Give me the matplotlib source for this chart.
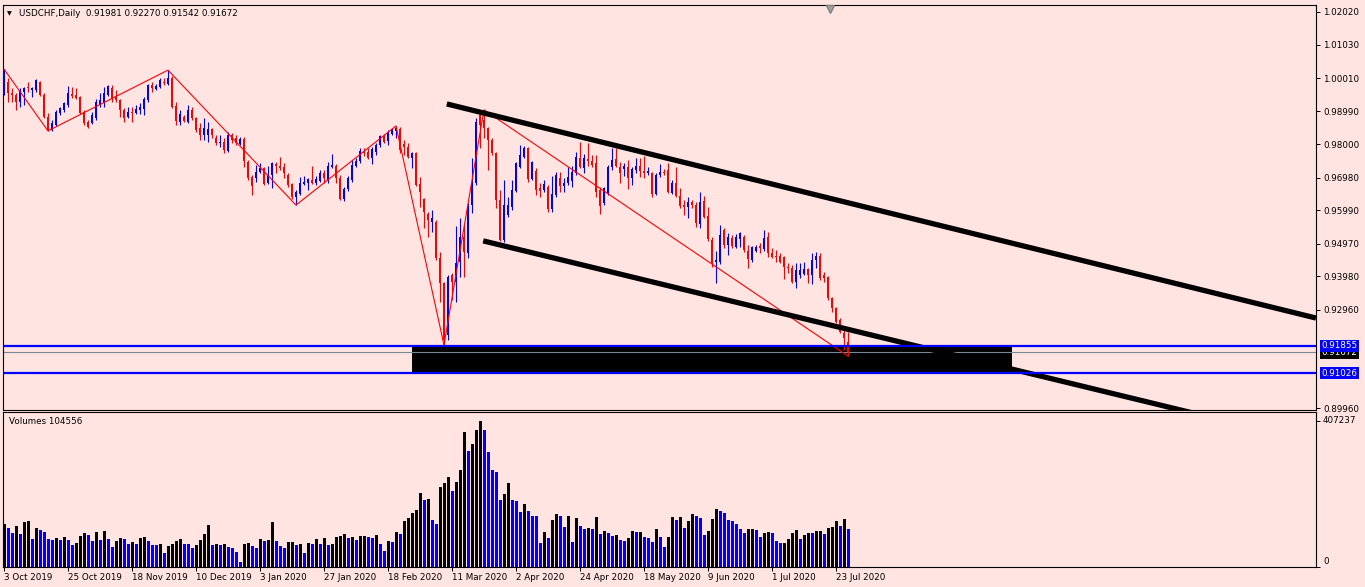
"""
USDCHF Daily - MT4 style chart with channel, zigzag, support box and volumes.
"""

import matplotlib
matplotlib.use('Agg')
import matplotlib.pyplot as plt
import matplotlib.transforms as mtransforms
from matplotlib.patches import Rectangle

# ── Daily bars, 3 Oct 2019 .. Jul 2020 ──────────────────────────────────
opens = [
    0.9955, 0.9989, 0.9955, 0.9949, 0.9928, 0.9958, 0.9974, 0.9965, 0.9965, 0.9989,
    0.9949, 0.9882, 0.9843, 0.9858, 0.9894, 0.9904, 0.9919, 0.9952, 0.9949, 0.9943,
    0.9897, 0.9867, 0.9864, 0.9880, 0.9919, 0.9925, 0.9949, 0.9971, 0.9943, 0.9934,
    0.9904, 0.9882, 0.9897, 0.9894, 0.9904, 0.9907, 0.9934, 0.9980, 0.9968, 0.9974,
    0.9989, 0.9983, 1.0001, 0.9916, 0.9867, 0.9882, 0.9867, 0.9904, 0.9880, 0.9849,
    0.9827, 0.9827, 0.9846, 0.9818, 0.9803, 0.9806, 0.9779, 0.9827, 0.9818, 0.9800,
    0.9815, 0.9745, 0.9699, 0.9696, 0.9715, 0.9727, 0.9681, 0.9706, 0.9739, 0.9733,
    0.9730, 0.9706, 0.9678, 0.9639, 0.9648, 0.9678, 0.9681, 0.9690, 0.9681, 0.9687,
    0.9712, 0.9690, 0.9730, 0.9733, 0.9696, 0.9633, 0.9663, 0.9690, 0.9733, 0.9748,
    0.9776, 0.9776, 0.9757, 0.9776, 0.9797, 0.9824, 0.9809, 0.9830, 0.9840, 0.9846,
    0.9800, 0.9791, 0.9757, 0.9773, 0.9678, 0.9633, 0.9587, 0.9562, 0.9562, 0.9453,
    0.9376, 0.9218, 0.9401, 0.9380, 0.9441, 0.9517, 0.9468, 0.9614, 0.9681, 0.9888,
    0.9873, 0.9849, 0.9812, 0.9773, 0.9630, 0.9508, 0.9584, 0.9608, 0.9657, 0.9730,
    0.9760, 0.9788, 0.9693, 0.9718, 0.9666, 0.9660, 0.9669, 0.9602, 0.9645, 0.9696,
    0.9672, 0.9681, 0.9687, 0.9712, 0.9757, 0.9727, 0.9754, 0.9748, 0.9742, 0.9660,
    0.9621, 0.9651, 0.9730, 0.9754, 0.9730, 0.9724, 0.9730, 0.9696, 0.9721, 0.9733,
    0.9718, 0.9712, 0.9712, 0.9648, 0.9706, 0.9715, 0.9721, 0.9651, 0.9681, 0.9642,
    0.9614, 0.9608, 0.9624, 0.9614, 0.9556, 0.9627, 0.9581, 0.9508, 0.9441, 0.9441,
    0.9538, 0.9493, 0.9514, 0.9486, 0.9511, 0.9517, 0.9474, 0.9447, 0.9474, 0.9489,
    0.9480, 0.9517, 0.9468, 0.9459, 0.9459, 0.9456, 0.9425, 0.9422, 0.9380, 0.9401,
    0.9404, 0.9419, 0.9401, 0.9447, 0.9459, 0.9401, 0.9395, 0.9331, 0.9301, 0.9264,
    0.9225, 0.91981,
]
highs = [
    1.0028, 1.0001, 0.9971, 0.9955, 0.9971, 0.9974, 0.9989, 0.9974, 0.9998, 0.9992,
    0.9955, 0.9894, 0.9873, 0.9904, 0.9913, 0.9928, 0.9977, 0.9974, 0.9971, 0.9946,
    0.9904, 0.9873, 0.9897, 0.9937, 0.9955, 0.9974, 0.9980, 0.9980, 0.9965, 0.9937,
    0.9910, 0.9913, 0.9913, 0.9919, 0.9925, 0.9943, 0.9983, 0.9989, 0.9983, 1.0001,
    1.0001, 1.0025, 1.0007, 0.9928, 0.9904, 0.9888, 0.9919, 0.9913, 0.9882, 0.9864,
    0.9880, 0.9867, 0.9849, 0.9827, 0.9827, 0.9818, 0.9837, 0.9834, 0.9827, 0.9821,
    0.9821, 0.9751, 0.9706, 0.9736, 0.9742, 0.9730, 0.9733, 0.9745, 0.9745, 0.9760,
    0.9742, 0.9712, 0.9681, 0.9660, 0.9699, 0.9702, 0.9696, 0.9733, 0.9702, 0.9721,
    0.9721, 0.9745, 0.9770, 0.9739, 0.9706, 0.9669, 0.9702, 0.9751, 0.9757, 0.9788,
    0.9788, 0.9788, 0.9791, 0.9803, 0.9827, 0.9830, 0.9843, 0.9849, 0.9855, 0.9852,
    0.9812, 0.9803, 0.9776, 0.9776, 0.9699, 0.9636, 0.9593, 0.9599, 0.9569, 0.9471,
    0.9380, 0.9401, 0.9407, 0.9550, 0.9575, 0.9553, 0.9621, 0.9757, 0.9880, 0.9904,
    0.9904, 0.9852, 0.9818, 0.9776, 0.9660, 0.9690, 0.9639, 0.9690, 0.9745, 0.9797,
    0.9794, 0.9791, 0.9748, 0.9727, 0.9681, 0.9690, 0.9675, 0.9702, 0.9715, 0.9715,
    0.9696, 0.9730, 0.9733, 0.9776, 0.9806, 0.9770, 0.9803, 0.9767, 0.9767, 0.9669,
    0.9669, 0.9736, 0.9788, 0.9788, 0.9745, 0.9742, 0.9751, 0.9730, 0.9757, 0.9757,
    0.9764, 0.9730, 0.9715, 0.9712, 0.9739, 0.9724, 0.9742, 0.9690, 0.9730, 0.9666,
    0.9630, 0.9639, 0.9630, 0.9624, 0.9654, 0.9642, 0.9608, 0.9517, 0.9474, 0.9553,
    0.9544, 0.9529, 0.9523, 0.9526, 0.9532, 0.9523, 0.9493, 0.9489, 0.9493, 0.9498,
    0.9538, 0.9532, 0.9483, 0.9477, 0.9468, 0.9459, 0.9438, 0.9432, 0.9438, 0.9438,
    0.9441, 0.9422, 0.9468, 0.9471, 0.9468, 0.9410, 0.9398, 0.9334, 0.9304, 0.9270,
    0.9240, 0.92270,
]
lows = [
    0.9949, 0.9928, 0.9928, 0.9904, 0.9913, 0.9919, 0.9958, 0.9943, 0.9958, 0.9946,
    0.9880, 0.9840, 0.9840, 0.9855, 0.9888, 0.9897, 0.9913, 0.9940, 0.9937, 0.9891,
    0.9858, 0.9849, 0.9861, 0.9873, 0.9913, 0.9913, 0.9946, 0.9928, 0.9928, 0.9882,
    0.9867, 0.9879, 0.9867, 0.9891, 0.9891, 0.9888, 0.9928, 0.9958, 0.9964, 0.9971,
    0.9980, 0.9980, 0.9910, 0.9858, 0.9858, 0.9867, 0.9864, 0.9873, 0.9837, 0.9812,
    0.9812, 0.9806, 0.9818, 0.9797, 0.9791, 0.9773, 0.9776, 0.9803, 0.9797, 0.9797,
    0.9730, 0.9690, 0.9645, 0.9684, 0.9712, 0.9675, 0.9678, 0.9666, 0.9712, 0.9721,
    0.9696, 0.9669, 0.9633, 0.9614, 0.9645, 0.9675, 0.9660, 0.9678, 0.9675, 0.9684,
    0.9681, 0.9681, 0.9727, 0.9681, 0.9630, 0.9627, 0.9657, 0.9684, 0.9730, 0.9742,
    0.9764, 0.9754, 0.9739, 0.9767, 0.9791, 0.9803, 0.9797, 0.9827, 0.9818, 0.9773,
    0.9767, 0.9757, 0.9727, 0.9672, 0.9608, 0.9544, 0.9517, 0.9532, 0.9447, 0.9319,
    0.9188, 0.9203, 0.9325, 0.9319, 0.9395, 0.9395, 0.9453, 0.9590, 0.9675, 0.9788,
    0.9818, 0.9721, 0.9767, 0.9605, 0.9505, 0.9501, 0.9578, 0.9599, 0.9654, 0.9727,
    0.9757, 0.9684, 0.9690, 0.9645, 0.9639, 0.9654, 0.9593, 0.9593, 0.9639, 0.9654,
    0.9654, 0.9675, 0.9669, 0.9706, 0.9727, 0.9712, 0.9733, 0.9730, 0.9639, 0.9587,
    0.9614, 0.9645, 0.9721, 0.9730, 0.9681, 0.9703, 0.9663, 0.9675, 0.9712, 0.9699,
    0.9696, 0.9706, 0.9639, 0.9645, 0.9699, 0.9706, 0.9651, 0.9648, 0.9639, 0.9605,
    0.9584, 0.9575, 0.9605, 0.9547, 0.9544, 0.9575, 0.9505, 0.9425, 0.9376, 0.9435,
    0.9483, 0.9462, 0.9483, 0.9483, 0.9486, 0.9471, 0.9422, 0.9441, 0.9471, 0.9468,
    0.9474, 0.9456, 0.9453, 0.9441, 0.9438, 0.9389, 0.9407, 0.9376, 0.9361, 0.9392,
    0.9401, 0.9376, 0.9373, 0.9422, 0.9386, 0.9380, 0.9325, 0.9289, 0.9255, 0.9225,
    0.9173, 0.91542,
]
closes = [
    1.0025, 0.9955, 0.9949, 0.9928, 0.9965, 0.9971, 0.9971, 0.9971, 0.9995, 0.9949,
    0.9882, 0.9843, 0.9864, 0.9897, 0.9910, 0.9925, 0.9955, 0.9946, 0.9940, 0.9894,
    0.9864, 0.9852, 0.9888, 0.9928, 0.9934, 0.9955, 0.9977, 0.9940, 0.9934, 0.9904,
    0.9880, 0.9897, 0.9894, 0.9907, 0.9913, 0.9937, 0.9980, 0.9971, 0.9977, 0.9995,
    0.9986, 1.0001, 0.9913, 0.9870, 0.9891, 0.9870, 0.9904, 0.9880, 0.9843, 0.9827,
    0.9849, 0.9846, 0.9827, 0.9803, 0.9806, 0.9782, 0.9827, 0.9812, 0.9803, 0.9815,
    0.9748, 0.9696, 0.9672, 0.9715, 0.9727, 0.9678, 0.9706, 0.9742, 0.9733, 0.9727,
    0.9712, 0.9675, 0.9639, 0.9654, 0.9681, 0.9684, 0.9693, 0.9681, 0.9693, 0.9712,
    0.9696, 0.9733, 0.9736, 0.9696, 0.9633, 0.9663, 0.9696, 0.9736, 0.9748, 0.9779,
    0.9773, 0.9757, 0.9785, 0.9797, 0.9824, 0.9806, 0.9834, 0.9846, 0.9849, 0.9782,
    0.9791, 0.9760, 0.9773, 0.9675, 0.9654, 0.9593, 0.9569, 0.9575, 0.9453, 0.9376,
    0.9203, 0.9395, 0.9380, 0.9438, 0.9517, 0.9471, 0.9608, 0.9681, 0.9867, 0.9858,
    0.9849, 0.9812, 0.9773, 0.9630, 0.9508, 0.9614, 0.9614, 0.9660, 0.9742, 0.9767,
    0.9788, 0.9693, 0.9745, 0.9660, 0.9657, 0.9678, 0.9602, 0.9648, 0.9706, 0.9672,
    0.9681, 0.9699, 0.9715, 0.9760, 0.9730, 0.9757, 0.9748, 0.9736, 0.9654, 0.9611,
    0.9666, 0.9730, 0.9751, 0.9733, 0.9712, 0.9733, 0.9696, 0.9724, 0.9733, 0.9718,
    0.9712, 0.9718, 0.9648, 0.9706, 0.9715, 0.9712, 0.9654, 0.9681, 0.9642, 0.9611,
    0.9608, 0.9624, 0.9614, 0.9559, 0.9624, 0.9578, 0.9511, 0.9438, 0.9447, 0.9523,
    0.9493, 0.9517, 0.9489, 0.9517, 0.9529, 0.9477, 0.9450, 0.9486, 0.9486, 0.9483,
    0.9514, 0.9468, 0.9456, 0.9456, 0.9441, 0.9425, 0.9422, 0.9380, 0.9416, 0.9416,
    0.9419, 0.9401, 0.9447, 0.9459, 0.9392, 0.9392, 0.9331, 0.9301, 0.9258, 0.9228,
    0.9209, 0.91672,
]
volumes = [
    118900, 108600, 94500, 114200, 91700, 125400, 128200, 77700, 108600, 103000,
    97300, 77700, 74900, 80500, 74900, 83300, 74900, 60800, 66500, 86100,
    94500, 88900, 72100, 97300, 74900, 100200, 77700, 55200, 72100, 80500,
    77700, 63600, 69300, 63600, 80500, 83300, 72100, 60800, 60500, 63600,
    38400, 58000, 63600, 72100, 77700, 63600, 63300, 52400, 60800, 74900,
    91700, 117000, 60800, 63600, 60800, 63600, 55200, 52400, 41200, 13100,
    63600, 66500, 58000, 52400, 77700, 72100, 74900, 125400, 72100, 58000,
    52400, 69300, 69300, 60800, 63600, 38400, 66500, 63600, 77700, 63600,
    80500, 60800, 63600, 83300, 86100, 91700, 80500, 83300, 74900, 86100,
    86100, 83300, 80500, 88900, 63600, 44000, 72100, 69300, 97300, 91700,
    128200, 136700, 150700, 159100, 204000, 184400, 187200, 131000, 119800, 220900,
    232100, 249000, 209700, 234900, 268600, 375300, 322000, 341600, 381000, 407237,
    381000, 319200, 268600, 263000, 184400, 201200, 232100, 184400, 181600, 153500,
    173200, 156300, 142300, 141800, 66500, 97300, 80500, 131000, 147900, 142300,
    111400, 142300, 69300, 136700, 114200, 105800, 108600, 105800, 139500, 91700,
    100200, 94500, 86100, 88900, 74900, 72100, 80500, 100200, 97300, 97300,
    83300, 80500, 69300, 105800, 83300, 55200, 83300, 139500, 131000, 139500,
    108600, 128200, 147900, 142300, 136700, 88900, 100200, 133800, 161900, 156300,
    150700, 131000, 128200, 119800, 105800, 94500, 105800, 105800, 103000, 83300,
    94500, 97300, 94500, 72100, 66500, 66500, 77700, 94500, 103000, 77700,
    88900, 94500, 94000, 100200, 100200, 91700, 108600, 111400, 128200, 114200,
    133800, 104556,
]

# date labels every 16 bars
date_labels = ['3 Oct 2019', '25 Oct 2019', '18 Nov 2019', '10 Dec 2019', '3 Jan 2020',
               '27 Jan 2020', '18 Feb 2020', '11 Mar 2020', '2 Apr 2020', '24 Apr 2020',
               '18 May 2020', '9 Jun 2020', '1 Jul 2020', '23 Jul 2020']
date_bars = [0, 16, 32, 48, 64, 80, 96, 112, 128, 144, 160, 176, 192, 208]

price_ticks = [1.02020, 1.01030, 1.00010, 0.98990, 0.98000, 0.96980, 0.95990,
               0.94970, 0.93980, 0.92960, 0.89960]

# zigzag swing bars (alternating high / low)
zz_bars = [0, 11, 41, 73, 98, 110, 120, 211]
zz_kind = ['H', 'L', 'H', 'L', 'H', 'L', 'H', 'L']

# drawn objects: channel (bar index, price), horizontal levels, box
upper_channel = [(110.7, 0.9922), (328.0, 0.9270)]
lower_channel = [(119.8, 0.9505), (328.0, 0.8890)]
level_hi = 0.91855
level_lo = 0.91026
box_bars = (102, 252)
shift_bar = 206.5

BG = '#FFE4E1'
BULL = '#0000FF'
BEAR = '#FF0000'

plt.rcParams['font.family'] = ['DejaVu Sans']
FS = 6.3

W, H = 1365, 587
fig = plt.figure(figsize=(W / 100, H / 100), dpi=100, facecolor=BG)
ax = fig.add_axes([3 / W, 1 - 410 / H, 1313 / W, 405 / H], facecolor=BG)
axv = fig.add_axes([3 / W, 1 - 566.5 / H, 1313 / W, 154.5 / H], facecolor=BG)

n = len(closes)
xs = list(range(n))

# ── Price pane ─────────────────────────────────────────────────────────
ax.add_patch(Rectangle((box_bars[0], level_lo), box_bars[1] - box_bars[0],
                       level_hi - level_lo, facecolor='black', edgecolor='none', zorder=1))

ax.axhline(closes[-1], color='#778899', lw=0.8, zorder=1.5)

cols = [BULL if c >= o else BEAR for o, c in zip(opens, closes)]
ax.vlines(xs, lows, highs, colors=cols, lw=0.8, zorder=3)
bottoms = [min(o, c) for o, c in zip(opens, closes)]
heights = [max(abs(c - o), 0.00025) for o, c in zip(opens, closes)]
ax.bar(xs, heights, bottom=bottoms, width=0.72, color=cols, linewidth=0, zorder=3.5)

zz_y = [highs[b] if k == 'H' else lows[b] for b, k in zip(zz_bars, zz_kind)]
ax.plot(zz_bars, zz_y, color='#FF0000', lw=0.8, zorder=4)

for ch in (upper_channel, lower_channel):
    ax.plot([p[0] for p in ch], [p[1] for p in ch], color='black', lw=3.8,
            solid_capstyle='butt', zorder=5)

ax.axhline(level_hi, color='#0000FF', lw=1.6, zorder=6)
ax.axhline(level_lo, color='#0000FF', lw=1.6, zorder=6)

ax.set_xlim(-0.25, 328)
ax.set_ylim(0.89900, 1.02233)
ax.set_xticks([])
ax.yaxis.tick_right()
ax.set_yticks(price_ticks)
ax.set_yticklabels([f'{v:.5f}' for v in price_ticks])
ax.tick_params(axis='y', direction='out', length=3, width=0.7, pad=2,
               labelsize=FS, colors='black')

# right-axis price tags
tr = mtransforms.blended_transform_factory(ax.transAxes, ax.transData)
ax.text(1.0042, closes[-1] - 0.0003, f'{closes[-1]:.5f}', transform=tr, ha='left',
        va='center', fontsize=FS, color='white', zorder=9, clip_on=False,
        bbox=dict(boxstyle='square,pad=0.18', fc='black', ec='none'))
for lv in (level_hi, level_lo):
    ax.text(1.0042, lv, f'{lv:.5f}', transform=tr, ha='left', va='center',
            fontsize=FS, color='white', zorder=10, clip_on=False,
            bbox=dict(boxstyle='square,pad=0.18', fc='#0000FF', ec='none'))

# chart shift marker
trs = mtransforms.blended_transform_factory(ax.transData, ax.transAxes)
ax.plot([shift_bar], [0.99], marker='v', ms=6, color='#A0A0A0', mec='#808080',
        transform=trs, clip_on=False, zorder=10)

for sp in ax.spines.values():
    sp.set_color('black')
    sp.set_linewidth(0.8)

# ── Volume pane ────────────────────────────────────────────────────────
vcols = ['black'] + ['black' if volumes[i] >= volumes[i - 1] else BULL
                     for i in range(1, n)]
axv.bar(xs, volumes, width=0.75, color=vcols, linewidth=0, zorder=2)
axv.set_xlim(-0.25, 328)
axv.set_ylim(0, 431500)
axv.yaxis.tick_right()
axv.set_yticks([0, max(volumes)])
axv.set_yticklabels(['0', str(max(volumes))])
axv.get_yticklabels()[0].set_va('bottom')
axv.get_yticklabels()[1].set_va('center')
axv.tick_params(axis='y', direction='out', length=3, width=0.7, pad=2, labelsize=FS)
axv.set_xticks(date_bars)
axv.set_xticklabels(date_labels, ha='left')
axv.tick_params(axis='x', direction='out', length=3, width=0.7, pad=1.5, labelsize=FS)
for sp in axv.spines.values():
    sp.set_color('black')
    sp.set_linewidth(0.8)
axv.text(6 / 1313, 0.94, f'Volumes {volumes[-1]}', transform=axv.transAxes,
         ha='left', va='center', fontsize=FS)

# ── Header ─────────────────────────────────────────────────────────────
fig.text(7 / W, 1 - 14 / H, '\u25BC', fontsize=4.5, va='center', ha='left')
fig.text(19 / W, 1 - 14 / H,
         f'USDCHF,Daily  {opens[-1]:.5f} {highs[-1]:.5f} {lows[-1]:.5f} {closes[-1]:.5f}',
         fontsize=FS, va='center', ha='left')

fig.savefig('out.png', dpi=100, facecolor=BG)
